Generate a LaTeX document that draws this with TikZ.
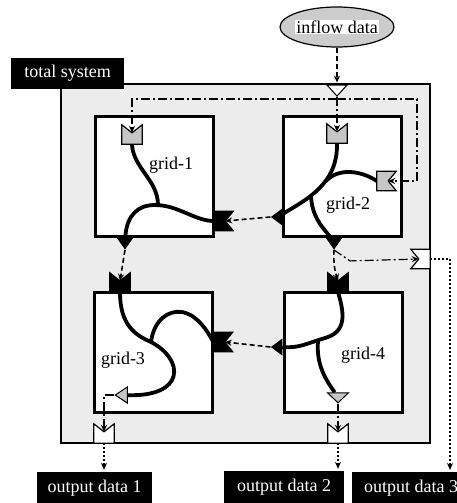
\documentclass[tikz,border=0pt]{standalone}
\usepackage{fontspec}
\setmainfont{Liberation Serif}
\usetikzlibrary{arrows.meta, positioning, calc, shapes.geometric}
\pgfdeclarelayer{back}
\pgfdeclarelayer{mid}
\pgfsetlayers{back,mid,main}

\begin{document}
\begin{tikzpicture}[x=1pt, y=-1pt, >={Stealth[length=7pt, width=6pt]},
    every node/.style={font=\fontsize{18}{20}\selectfont},
    gridbox/.style={draw, line width=3pt, fill=white, minimum width=118pt,
                    minimum height=120pt, inner sep=0pt},
    portline/.style={line width=1.2pt, line join=miter},
    portv/.style={inner sep=0pt, minimum width=20pt, minimum height=11pt},
    porth/.style={inner sep=0pt, minimum width=11pt, minimum height=19pt},
    portN/.style={portv, append after command={\pgfextra{\draw[portline, fill=#1]
        (\tikzlastnode.south west) -- ($(\tikzlastnode.north west)+(0,-8)$)
        -- (\tikzlastnode.north) -- ($(\tikzlastnode.north east)+(0,-8)$)
        -- (\tikzlastnode.south east) -- cycle;}}},
    portE/.style={porth, append after command={\pgfextra{\draw[portline, fill=#1]
        (\tikzlastnode.north west) -- ($(\tikzlastnode.north east)+(8,0)$)
        -- (\tikzlastnode.east) -- ($(\tikzlastnode.south east)+(8,0)$)
        -- (\tikzlastnode.south west) -- cycle;}}},
    portW/.style={porth, append after command={\pgfextra{\draw[portline, fill=#1]
        (\tikzlastnode.north east) -- ($(\tikzlastnode.north west)+(-8,0)$)
        -- (\tikzlastnode.west) -- ($(\tikzlastnode.south west)+(-8,0)$)
        -- (\tikzlastnode.south east) -- cycle;}}},
    tri/.style={isosceles triangle, isosceles triangle stretches, draw,
                line width=1pt, inner sep=0pt},
    blackbox/.style={fill=black, text=white, inner sep=0pt},
    wire/.style={line width=3.8pt},
    dashflow/.style={line width=1.6pt, dash pattern=on 5pt off 3pt},
    ddflow/.style={line width=1.2pt, dash pattern=on 9pt off 3pt on 2pt off 3pt},
    dotflow/.style={line width=2pt, dash pattern=on 2pt off 2pt}]
  \useasboundingbox (0,0) rectangle (457,503);
  \clip (0,0) rectangle (457,503);

  \node[ellipse, draw, line width=1.2pt, fill=gray!40, minimum width=114pt,
        minimum height=40pt] (inflow) at (337,27) {};
  \node[fill=white, inner sep=1pt] (inflowtxt) at (inflow) {inflow data};

  \begin{pgfonlayer}{back}
    \node[draw, line width=2pt, fill=gray!15, minimum width=369pt,
          minimum height=359pt] (sys) at (245.5,263.5) {};
    \node[gridbox] (g1) at (154,176) {};
    \node[gridbox] (g2) at (342.5,176) {};
    \node[gridbox] (g3) at (153,352) {};
    \node[gridbox] (g4) at (343,352) {};
  \end{pgfonlayer}
  \node[blackbox, minimum width=113pt, minimum height=31pt] (syslbl) at (67.5,73.5)
        {total system};
  \node (g1txt) at (171,165) {grid-1};
  \node (g2txt) at (348,205) {grid-2};
  \node (g3txt) at (123,360) {grid-3};
  \node (g4txt) at (363,355) {grid-4};

  \node[portN=gray!45] (g1in) at (132,138.5) {};
  \node[portN=gray!45] (g2in) at (337,137.5) {};
  \node[portE=gray!45] (g2r) at (382.5,181) {};
  \node[portE=black] (g1r) at (219.5,221) {};
  \node[portN=black] (g3in) at (120,286.5) {};
  \node[portN=black] (g4in) at (338,286.5) {};
  \node[portE=black] (g3r) at (219,342) {};
  \node[portN=white] (out1) at (104,437.5) {};
  \node[portN=white] (out2) at (338,437.5) {};
  \node[portW=white] (out3) at (424.5,259) {};

  \node[tri, fill=black, shape border rotate=270, minimum width=17pt,
        minimum height=12pt] (g1out) at (125,241) {};
  \node[tri, fill=black, shape border rotate=270, minimum width=17pt,
        minimum height=12pt] (g2out) at (334,241) {};
  \node[tri, fill=black, shape border rotate=180, minimum width=15pt,
        minimum height=10pt] (g2l) at (278,217) {};
  \node[tri, fill=black, shape border rotate=180, minimum width=15pt,
        minimum height=10pt] (g4l) at (278,347) {};
  \node[tri, fill=gray!45, shape border rotate=180, minimum width=16pt,
        minimum height=12pt] (g3out) at (123,395) {};
  \node[tri, fill=gray!45, shape border rotate=270, minimum width=21pt,
        minimum height=10pt] (g4out) at (338,397) {};
  \node[tri, fill=white, shape border rotate=270, minimum width=20pt,
        minimum height=11pt] (sysin) at (337,89.5) {};

  \node[blackbox, minimum width=115pt, minimum height=32pt] (od1) at (94.5,488)
        {output data 1};
  \node[blackbox, minimum width=120pt, minimum height=32pt] (od2) at (284,487)
        {output data 2};
  \node[blackbox, minimum width=118pt, minimum height=32pt] (od3) at (411,488)
        {output data 3};

  \coordinate (j1) at (158,205);
  \coordinate (j2a) at (326,181);
  \coordinate (j2b) at (311,196);
  \coordinate (j3) at (151,342);
  \coordinate (j4) at (318,341);
  \coordinate (split) at (337,99);
  \coordinate (rail) at (417,99);
  \coordinate (o3in) at (450,470);

  \begin{pgfonlayer}{mid}
    \draw[wire] (g1in.south) .. controls (133,168) and (158,180) .. (j1);
    \draw[wire] (g1out) .. controls (127,215) and (138,205) .. (155,205)
                .. controls (178,205) and (195,221) .. (g1r.west);
    \draw[wire] (g2in.south) .. controls (338,185) and (305,200) .. (g2l);
    \draw[wire] (g2r.west) .. controls (360,170) and (338,168) .. (j2a);
    \draw[wire] (j2b) .. controls (312,215) and (320,225) .. (g2out);
    \draw[wire] (g3in.south) .. controls (120,325) and (135,335) .. (j3)
                .. controls (185,360) and (185,397) .. (g3out);
    \draw[wire] (j3) .. controls (154,320) and (168,310) .. (182,312)
                .. controls (198,315) and (208,332) .. (g3r.west);
    \draw[wire] (g4in.south) .. controls (345,315) and (346,332) .. (325,338)
                .. controls (305,344) and (300,348) .. (g4l);
    \draw[wire] (j4) .. controls (316,365) and (326,380) .. (g4out);
  \end{pgfonlayer}

  \draw[dashflow, ->, shorten >=2pt] (inflow.south) -- (sysin.north);
  \draw[ddflow, ->] (sysin.apex) -- (g2in.north);
  \draw[ddflow, ->] (split) -| (g1in.north);
  \draw[ddflow, ->] (split) -- (rail) |- (g2r.east);
  \draw[dashflow, ->] (g2l.apex) -- (g1r.east);
  \draw[dashflow, ->] (g1out.apex) -- (g3in.north);
  \draw[dashflow, ->] (g2out.apex) to[bend right=10] (g4in.north);
  \draw[ddflow, ->] (g2out.apex) -- ++(16,11) -- (out3.west);
  \draw[dotflow, ->] (out3.east) -| (o3in);
  \draw[dashflow, ->] (g4l.apex) -- (g3r.east);
  \draw[ddflow, ->] (g3out.apex) -| (out1.north);
  \draw[ddflow, ->] (g4out.apex) -- (out2.north);
  \draw[dotflow, ->, shorten >=2pt] (out1.south) -- (out1.south |- od1.north);
  \draw[dotflow, ->, shorten >=2pt] (out2.south) -- (out2.south |- od2.north);
\end{tikzpicture}
\end{document}
